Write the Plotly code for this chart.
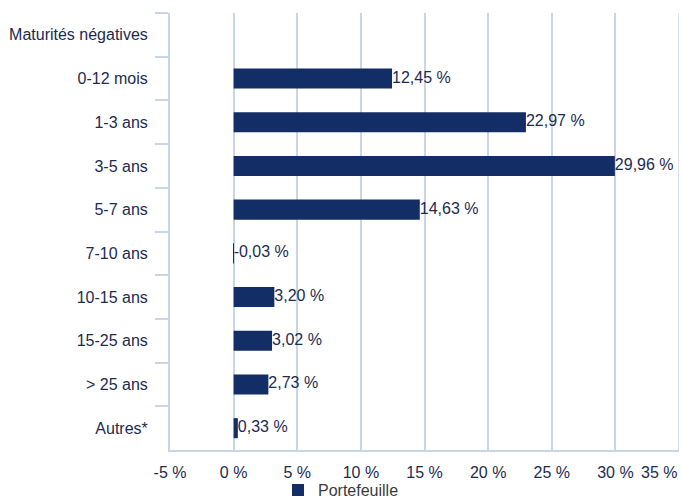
import plotly.graph_objects as go

categories = ["Maturités négatives", "0-12 mois", "1-3 ans", "3-5 ans", "5-7 ans",
              "7-10 ans", "10-15 ans", "15-25 ans", "> 25 ans", "Autres*"]
values = [None, 12.45, 22.97, 29.96, 14.63, -0.03, 3.20, 3.02, 2.73, 0.33]
series_name = "Portefeuille"
x_ticks = [-5, 0, 5, 10, 15, 20, 25, 30, 35]

BAR = "#132d66"
TXT = "#1c2b4f"
GRID = "#c9d6e7"
FONT = "Liberation Sans, Arial, sans-serif"
FS = 16

def fmt(v):
    return ("%.2f" % v).replace(".", ",") + " %"

label_x = [None if v is None else max(v, 0) for v in values]
label_t = [None if v is None else fmt(v) for v in values]

fig = go.Figure()
fig.add_trace(go.Bar(
    x=values, y=categories, orientation="h", name=series_name,
    marker=dict(color=BAR, line=dict(width=0)), showlegend=True,
))
fig.add_trace(go.Scatter(
    x=label_x, y=categories, mode="text", text=label_t,
    textposition="middle right", textfont=dict(family=FONT, size=FS, color=TXT),
    showlegend=False, hoverinfo="skip", cliponaxis=False,
))

tick_labels = [f"{t} %" for t in x_ticks[:-1]]
fig.update_layout(
    width=682, height=501,
    margin=dict(l=170, r=3, t=13, b=51, autoexpand=False),
    paper_bgcolor="white", plot_bgcolor="white",
    font=dict(family=FONT, size=FS, color=TXT),
    bargap=0.54,
    xaxis=dict(
        range=[-5, 35], tickvals=x_ticks[:-1], ticktext=tick_labels,
        showgrid=True, gridcolor=GRID, gridwidth=1.5, zeroline=False,
        showline=True, linecolor=GRID, linewidth=2, mirror=False,
        ticks="", ticklabelstandoff=7,
        tickfont=dict(size=FS, color=TXT),
    ),
    yaxis=dict(
        type="category", categoryorder="array", categoryarray=categories,
        autorange="reversed", tickson="boundaries", ticks="outside",
        ticklen=13, tickcolor=GRID, tickwidth=1.5,
        showline=True, linecolor=GRID, linewidth=2, showgrid=False,
        tickfont=dict(size=FS, color=TXT), ticklabelstandoff=17,
    ),
    legend=dict(
        orientation="h", xref="container", x=0.5, xanchor="center",
        yref="paper", y=-0.092, yanchor="middle", bgcolor="rgba(0,0,0,0)",
        font=dict(size=FS, color="#3a3a3a"),
        tracegroupgap=0, itemsizing="constant",
    ),
)
fig.add_shape(type="line", xref="x", yref="paper", x0=x_ticks[-1], x1=x_ticks[-1],
              y0=0, y1=1, line=dict(color=GRID, width=1.5), layer="below")
fig.add_annotation(x=x_ticks[-1], xref="x", y=0, yref="paper", yanchor="top",
                   xanchor="right", text=f"{x_ticks[-1]} %", showarrow=False,
                   yshift=-12, font=dict(size=FS, color=TXT))

fig.write_html("out.html")
